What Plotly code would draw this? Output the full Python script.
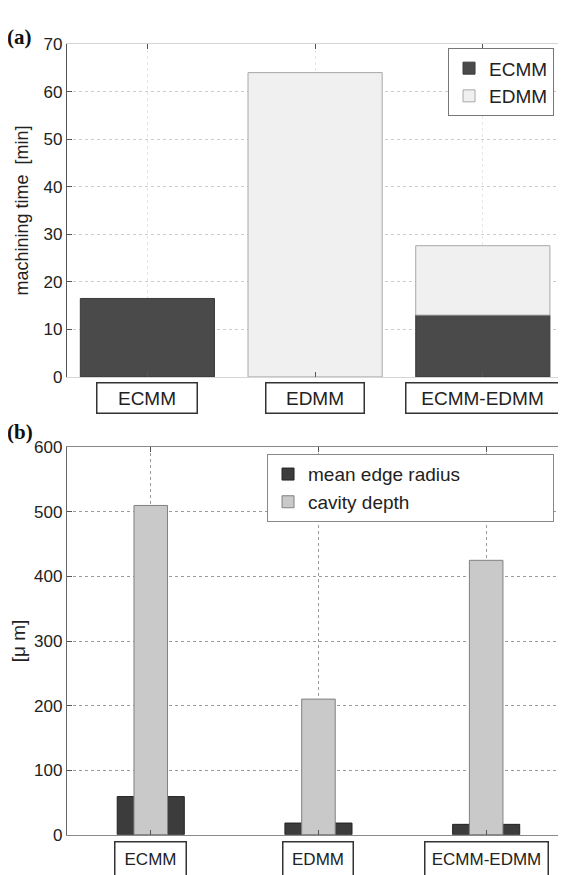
import plotly.graph_objects as go

# ---------------- data ----------------
categories = ["ECMM", "EDMM", "ECMM-EDMM"]
cat_pos = [1, 2, 3]

# panel (a): machining time [min]
time_ecmm = [16.5, 0, 13.0]
time_edmm = [0, 64.0, 14.6]

# panel (b): [um]
edge_radius = [59, 18, 16]
cavity_depth = [510, 210, 425]

a_ticks = [0, 10, 20, 30, 40, 50, 60, 70]
b_ticks = [0, 100, 200, 300, 400, 500, 600]

# the page has an 8px body margin: size the figure so it ends at the window edge
OFF = 8
W, H = 566 - OFF, 875 - OFF


def px_x(p):
    return (p - OFF) / W


def px_y(p):
    return 1 - (p - OFF) / H


FONT = "Liberation Sans, Arial, sans-serif"
DARK = "#4a4a4a"
LIGHT = "#f0f0f0"
GRAYB = "#c9c9c9"

fig = go.Figure()

# ---- panel (a) stacked bars (stack via base) ----
ecmm_plot = [v if v else None for v in time_ecmm]
edmm_plot = [v if v else None for v in time_edmm]
fig.add_trace(go.Bar(
    x=cat_pos, y=ecmm_plot, name="ECMM", width=0.8,
    marker=dict(color=DARK, line=dict(color="#3a3a3a", width=1)),
    xaxis="x", yaxis="y", legend="legend",
))
fig.add_trace(go.Bar(
    x=cat_pos, y=edmm_plot, base=time_ecmm, name="EDMM", width=0.8,
    marker=dict(color=LIGHT, line=dict(color="#a8a8a8", width=1)),
    xaxis="x", yaxis="y", legend="legend",
))

# ---- panel (b) overlaid bars ----
fig.add_trace(go.Bar(
    x=cat_pos, y=edge_radius, name="mean edge radius", width=0.4,
    marker=dict(color="#3c3c3c", line=dict(color="#222222", width=1)),
    xaxis="x2", yaxis="y2", legend="legend2",
))
fig.add_trace(go.Bar(
    x=cat_pos, y=cavity_depth, name="cavity depth", width=0.2,
    marker=dict(color=GRAYB, line=dict(color="#808080", width=1)),
    xaxis="x2", yaxis="y2", legend="legend2",
))

common_x = dict(
    tickmode="array", tickvals=cat_pos, ticktext=["", "", ""],
    ticks="inside", ticklen=5, tickcolor="#555",
    showgrid=True, griddash="dot", gridwidth=1,
    showline=True, mirror="ticks", zeroline=False, fixedrange=True,
)
common_y = dict(
    ticks="inside", ticklen=5, tickcolor="#555",
    showgrid=True, griddash="dot", gridwidth=1,
    showline=True, mirror="ticks", zeroline=False,
    tickfont=dict(family=FONT, size=17, color="#222"),
)

fig.update_layout(
    width=W, height=H,
    margin=dict(l=0, r=0, t=0, b=0),
    paper_bgcolor="white", plot_bgcolor="white",
    barmode="overlay",
    showlegend=True,
    font=dict(family=FONT, color="#222"),
    xaxis=dict(common_x, domain=[px_x(67), 1.0], range=[0.52, 3.49],
               anchor="y", linecolor="#d5d5d5", gridcolor="#e6e6e6"),
    yaxis=dict(common_y, domain=[px_y(376), px_y(35.7)], range=[0, 70],
               tickvals=a_ticks, anchor="x", linecolor="#555",
               gridcolor="#cccccc",
               title=dict(text="machining time  [min]", standoff=10,
                          font=dict(family=FONT, size=18, color="#222"))),
    xaxis2=dict(common_x, domain=[px_x(67), 1.0], range=[0.5, 3.47],
                anchor="y2", linecolor="#8a8a8a", gridcolor="#9a9a9a"),
    yaxis2=dict(common_y, domain=[px_y(844), px_y(448)], range=[0, 600],
                tickvals=b_ticks, anchor="x2", linecolor="#666",
                gridcolor="#9a9a9a",
                title=dict(text="[\u03bc m]", standoff=12,
                           font=dict(family=FONT, size=19, color="#222"))),
    legend=dict(
        x=px_x(555), y=px_y(40), xanchor="right", yanchor="top",
        bgcolor="white", bordercolor="#777", borderwidth=1,
        font=dict(family=FONT, size=19, color="#222"),
        tracegroupgap=0, itemwidth=30,
    ),
    legend2=dict(
        x=px_x(555), y=px_y(455), xanchor="right", yanchor="top",
        orientation="h",
        bgcolor="white", bordercolor="#888", borderwidth=1,
        font=dict(family=FONT, size=19, color="#222"),
        tracegroupgap=0, itemwidth=30,
        entrywidth=240, entrywidthmode="pixels",
    ),
)

# boxed category labels
annos = []
box_w_a = {"ECMM": 97, "EDMM": 95, "ECMM-EDMM": 150}
box_w_b = {"ECMM": 68, "EDMM": 67, "ECMM-EDMM": 120}
for c, p in zip(categories, cat_pos):
    annos.append(dict(
        x=p, xref="x", y=px_y(398), yref="paper", text=c, showarrow=False,
        width=box_w_a[c], height=27, bordercolor="#333", borderwidth=1.5,
        bgcolor="white", font=dict(family=FONT, size=19, color="#222"),
        xanchor="center", yanchor="middle",
    ))
    annos.append(dict(
        x=p, xref="x2", y=px_y(850), yref="paper", text=c, showarrow=False,
        width=box_w_b[c], height=32, bordercolor="#333", borderwidth=1.5,
        bgcolor="white", font=dict(family=FONT, size=17, color="#222"),
        xanchor="center", yanchor="top",
    ))
annos.append(dict(x=px_x(5), y=px_y(14), xref="paper", yref="paper",
                  text="<b>(a)</b>", showarrow=False, xanchor="left",
                  yanchor="top",
                  font=dict(family="Liberation Serif, Times New Roman, serif",
                            size=21, color="#111")))
annos.append(dict(x=px_x(5), y=px_y(418), xref="paper", yref="paper",
                  text="<b>(b)</b>", showarrow=False, xanchor="left",
                  yanchor="top",
                  font=dict(family="Liberation Serif, Times New Roman, serif",
                            size=21, color="#111")))
fig.update_layout(annotations=annos)

fig.write_html("out.html")
